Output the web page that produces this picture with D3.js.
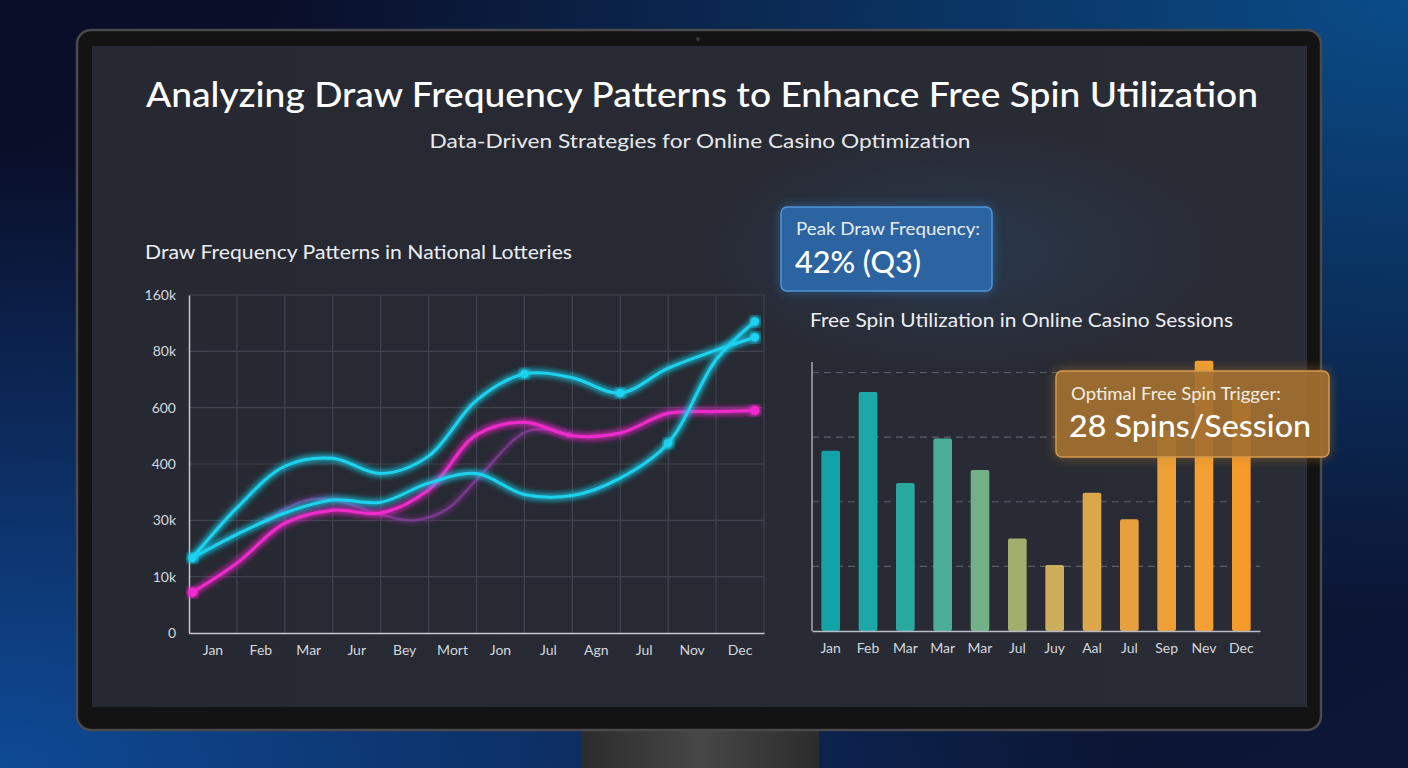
<!DOCTYPE html>
<html>
<head>
<meta charset="utf-8">
<script src="https://cdn.jsdelivr.net/npm/d3@7"></script>
<style>
  html, body { margin: 0; padding: 0; background: #0c1636; }
  svg { display: block; }
  text { font-family: Lato, "Noto Sans", sans-serif; }
</style>
</head>
<body>
<svg id="chart" width="1408" height="768"></svg>
<script>
// ---------------- DATA ----------------
const title = "Analyzing Draw Frequency Patterns to Enhance Free Spin Utilization";
const subtitle = "Data-Driven Strategies for Online Casino Optimization";

const lineTitle = "Draw Frequency Patterns in National Lotteries";
const lineMonths = ["Jan","Feb","Mar","Jur","Bey","Mort","Jon","Jul","Agn","Jul","Nov","Dec"];
const lineYTicks = ["0","10k","30k","400","600","80k","160k"];
// x positions in month units (0 = left edge of Jan column)
const lineX = [0.07, 1, 2, 3, 4, 5, 6, 7, 8, 9, 10, 11, 11.81];
const seriesUpper = [1.33, 2.22, 2.96, 3.10, 2.83, 3.14, 4.13, 4.60, 4.53, 4.26, 4.70, 5.02, 5.25];
const seriesLower = [1.33, 1.75, 2.13, 2.36, 2.32, 2.66, 2.83, 2.46, 2.44, 2.75, 3.37, 4.85, 5.53];
const seriesPink  = [0.72, 1.24, 1.95, 2.18, 2.13, 2.54, 3.52, 3.74, 3.50, 3.55, 3.90, 3.93, 3.95];
const purpleX     = [1.62, 2.38, 3, 4, 4.68, 5.37, 6, 7, 7.5, 7.92];
const seriesPurple= [2.00, 2.34, 2.37, 2.10, 2.00, 2.19, 2.72, 3.56, 3.61, 3.52];
const upperMarkers = [[0.07,1.33],[7.0,4.60],[9.0,4.26],[11.81,5.25]];
const lowerMarkers = [[10.0,3.37],[11.81,5.53]];
const pinkMarkers  = [[0.07,0.72],[11.81,3.95]];
const purpleMarkers= [[1.62,2.00],[7.92,3.52]];

const barTitle = "Free Spin Utilization in Online Casino Sessions";
const barMonths = ["Jan","Feb","Mar","Mar","Mar","Jul","Juy","Aal","Jul","Sep","Nev","Dec"];
const barValues = [27.9, 37.0, 22.9, 29.8, 24.9, 14.3, 10.2, 21.4, 17.3, 31.0, 41.8, 36.0];
const barColors = ["#12a3a6","#1ca8a8","#29a8a0","#4aae98","#72b088","#a0ae6c","#cbad5c","#dca64a","#e6a040","#eea036","#f4a034","#f69a2c"];
const barGridTicks = [10, 20, 30, 40];

const callout1 = ["Peak Draw Frequency:", "42% (Q3)"];
const callout2 = ["Optimal Free Spin Trigger:", "28 Spins/Session"];

// ---------------- DRAW ----------------
const svg = d3.select("#chart");
const defs = svg.append("defs");

const bgG = defs.append("linearGradient").attr("id","bg").attr("x1","0").attr("y1","0").attr("x2","1").attr("y2","1");
bgG.append("stop").attr("offset","0").attr("stop-color","#0a0e28");
bgG.append("stop").attr("offset","1").attr("stop-color","#0c1636");
const r1 = defs.append("radialGradient").attr("id","glowBL").attr("cx","0").attr("cy","1").attr("r","0.8");
r1.append("stop").attr("offset","0").attr("stop-color","#0e4a96").attr("stop-opacity",1);
r1.append("stop").attr("offset","1").attr("stop-color","#0e4a96").attr("stop-opacity",0);
const r2 = defs.append("radialGradient").attr("id","glowTR").attr("cx","1").attr("cy","0").attr("r","0.8");
r2.append("stop").attr("offset","0").attr("stop-color","#0a4c88").attr("stop-opacity",1);
r2.append("stop").attr("offset","1").attr("stop-color","#0a4c88").attr("stop-opacity",0);

const scrG = defs.append("linearGradient").attr("id","scr").attr("x1","0").attr("y1","0").attr("x2","1").attr("y2","0");
scrG.append("stop").attr("offset","0").attr("stop-color","#262931");
scrG.append("stop").attr("offset","1").attr("stop-color","#292c35");
const standG = defs.append("linearGradient").attr("id","stand").attr("x1","0").attr("y1","0").attr("x2","1").attr("y2","0");
standG.append("stop").attr("offset","0").attr("stop-color","#2c2c2c");
standG.append("stop").attr("offset","0.5").attr("stop-color","#474747");
standG.append("stop").attr("offset","1").attr("stop-color","#2c2c2c");
const spot = defs.append("radialGradient").attr("id","spot").attr("cx","0.5").attr("cy","0.5").attr("r","0.5");
spot.append("stop").attr("offset","0").attr("stop-color","#2f4f78").attr("stop-opacity",0.35);
spot.append("stop").attr("offset","1").attr("stop-color","#2f4f78").attr("stop-opacity",0);

function glowFilter(id, sd) {
  const f = defs.append("filter").attr("id", id).attr("x","-20%").attr("y","-20%").attr("width","140%").attr("height","140%");
  f.append("feGaussianBlur").attr("in","SourceGraphic").attr("stdDeviation", sd).attr("result","b");
  const m = f.append("feMerge");
  m.append("feMergeNode").attr("in","b");
  m.append("feMergeNode").attr("in","b");
  m.append("feMergeNode").attr("in","SourceGraphic");
}
glowFilter("glow", 3);
glowFilter("glowSoft", 6);

// background
svg.append("rect").attr("width",1408).attr("height",768).attr("fill","url(#bg)");
svg.append("rect").attr("width",1408).attr("height",768).attr("fill","url(#glowBL)");
svg.append("rect").attr("width",1408).attr("height",768).attr("fill","url(#glowTR)");

// monitor
svg.append("rect").attr("x",582).attr("y",725).attr("width",237).attr("height",50).attr("fill","url(#stand)");
svg.append("rect").attr("x",77).attr("y",30).attr("width",1244).attr("height",700).attr("rx",14)
  .attr("fill","#131313").attr("stroke","#4a4a4e").attr("stroke-width",2.5);
svg.append("rect").attr("x",92).attr("y",46).attr("width",1215).attr("height",661).attr("fill","url(#scr)");
svg.append("ellipse").attr("cx",960).attr("cy",250).attr("rx",260).attr("ry",120).attr("fill","url(#spot)");
svg.append("circle").attr("cx",698).attr("cy",39).attr("r",2).attr("fill","#3a3a3e");

// titles
svg.append("text").attr("x",702).attr("y",107).attr("text-anchor","middle")
  .attr("font-size",35).attr("font-weight",500).attr("fill","#ffffff")
  .attr("textLength",1112).attr("lengthAdjust","spacingAndGlyphs").text(title);
svg.append("text").attr("x",700).attr("y",148).attr("text-anchor","middle")
  .attr("font-size",20).attr("fill","#e6e8ec")
  .attr("textLength",541).attr("lengthAdjust","spacingAndGlyphs").text(subtitle);

// ---------------- LINE CHART ----------------
const L = {left:189, right:764, top:295, bottom:633};
const lx = d3.scaleLinear().domain([0,12]).range([L.left, L.right]);
const lband = d3.scaleBand().domain(d3.range(12)).range([L.left, L.right]);
const ly = d3.scaleLinear().domain([0,6]).range([L.bottom, L.top]);

svg.append("text").attr("x",145).attr("y",259).attr("font-size",19.5).attr("fill","#eceef2")
  .attr("textLength",427).attr("lengthAdjust","spacingAndGlyphs").text(lineTitle);

const gl = svg.append("g");
gl.append("g").selectAll("line").data(d3.range(1,7)).join("line")
  .attr("x1",L.left).attr("x2",L.right).attr("y1",d=>ly(d)).attr("y2",d=>ly(d))
  .attr("stroke","#40444e").attr("stroke-width",1.2);
gl.append("g").selectAll("line").data(d3.range(1,13)).join("line")
  .attr("x1",d=>lx(d)).attr("x2",d=>lx(d)).attr("y1",L.top).attr("y2",L.bottom)
  .attr("stroke","#40444e").attr("stroke-width",1.2);

const yAxisL = gl.append("g").attr("transform",`translate(${L.left},0)`)
  .call(d3.axisLeft(ly).tickValues(d3.range(0,7)).tickFormat(i=>lineYTicks[i]).tickSize(0).tickPadding(13));
yAxisL.select(".domain").attr("stroke","#c4c8d0").attr("stroke-width",1.5);
yAxisL.selectAll("text").attr("fill","#d4d7dd").attr("font-size",14).attr("font-family","Lato, sans-serif");
const xAxisL = gl.append("g").attr("transform",`translate(0,${L.bottom})`)
  .call(d3.axisBottom(lband).tickFormat(i=>lineMonths[i]).tickSize(0).tickPadding(12));
xAxisL.select(".domain").attr("stroke","#c4c8d0").attr("stroke-width",1.5);
xAxisL.selectAll("text").attr("fill","#d4d7dd").attr("font-size",14).attr("font-family","Lato, sans-serif");

const lineGen = d3.line().x(d=>lx(d[0])).y(d=>ly(d[1])).curve(d3.curveCatmullRom.alpha(0.5));
const zipXY = (xs, ys) => xs.map((x,i)=>[x, ys[i]]);

const lines = [
  {pts: zipXY(purpleX, seriesPurple), color:"#9a3fb0", width:2.4, op:0.6, markers: purpleMarkers, mr:2.6},
  {pts: zipXY(lineX, seriesPink), color:"#f02ccc", width:3, op:1, markers: pinkMarkers, mr:4.5},
  {pts: zipXY(lineX, seriesLower), color:"#1fd2ee", width:3, op:1, markers: lowerMarkers, mr:4.2},
  {pts: zipXY(lineX, seriesUpper), color:"#1fd2ee", width:3, op:1, markers: upperMarkers, mr:4.2},
];
lines.forEach(s => {
  svg.append("path").datum(s.pts).attr("d", lineGen).attr("fill","none")
    .attr("stroke", s.color).attr("stroke-width", s.width).attr("stroke-opacity", s.op)
    .attr("stroke-linecap","round").attr("filter","url(#glow)");
  svg.append("g").selectAll("circle").data(s.markers).join("circle")
    .attr("cx", d=>lx(d[0])).attr("cy", d=>ly(d[1])).attr("r", s.mr)
    .attr("fill", s.color).attr("fill-opacity", s.op).attr("filter","url(#glow)");
});

// ---------------- BAR CHART ----------------
const B = {left:812, right:1260, top:362, bottom:631};
const bx = d3.scaleBand().domain(d3.range(12)).range([B.left, B.right]).paddingInner(0.5).paddingOuter(0.25);
const by = d3.scaleLinear().domain([0,40]).range([B.bottom, 372.5]);

svg.append("text").attr("x",810).attr("y",327).attr("font-size",19.5).attr("fill","#eceef2")
  .attr("textLength",423).attr("lengthAdjust","spacingAndGlyphs").text(barTitle);

const gb = svg.append("g");
gb.append("g").selectAll("line").data(barGridTicks).join("line")
  .attr("x1",B.left).attr("x2",B.right).attr("y1",d=>by(d)).attr("y2",d=>by(d))
  .attr("stroke","#5c606a").attr("stroke-width",1.2).attr("stroke-dasharray","7,5");

gb.append("g").selectAll("rect").data(barValues).join("rect")
  .attr("x",(d,i)=>bx(i)).attr("width",bx.bandwidth())
  .attr("y",d=>by(d)).attr("height",d=>B.bottom-by(d))
  .attr("rx",2).attr("fill",(d,i)=>barColors[i]);

gb.append("line").attr("x1",B.left).attr("x2",B.left).attr("y1",B.top).attr("y2",B.bottom)
  .attr("stroke","#a4a8b0").attr("stroke-width",1.5);
const xAxisB = gb.append("g").attr("transform",`translate(0,${B.bottom})`)
  .call(d3.axisBottom(bx).tickFormat(i=>barMonths[i]).tickSize(0).tickPadding(12));
xAxisB.select(".domain").attr("stroke","#b8bcc4").attr("stroke-width",1.5);
xAxisB.selectAll("text").attr("fill","#d4d7dd").attr("font-size",14).attr("font-family","Lato, sans-serif");

// ---------------- CALLOUTS ----------------
svg.append("rect").attr("x",781).attr("y",207).attr("width",211).attr("height",84).attr("rx",6)
  .attr("fill","#3a80c8").attr("opacity",0.35).attr("filter","url(#glowSoft)");
svg.append("rect").attr("x",781).attr("y",207).attr("width",211).attr("height",84).attr("rx",6)
  .attr("fill","#2b64a0").attr("stroke","#4f95d6").attr("stroke-width",1.5);
svg.append("text").attr("x",796).attr("y",235).attr("font-size",17).attr("fill","#e8eef6")
  .attr("textLength",184).attr("lengthAdjust","spacingAndGlyphs").text(callout1[0]);
svg.append("text").attr("x",795).attr("y",273).attr("font-size",31).attr("font-weight",500)
  .attr("font-family","Inter, Lato, sans-serif").attr("fill","#ffffff")
  .attr("textLength",126).attr("lengthAdjust","spacingAndGlyphs").text(callout1[1]);

svg.append("rect").attr("x",1056).attr("y",371).attr("width",273).attr("height",86).attr("rx",6)
  .attr("fill","#c08030").attr("opacity",0.35).attr("filter","url(#glowSoft)");
svg.append("rect").attr("x",1056).attr("y",371).attr("width",273).attr("height",86).attr("rx",6)
  .attr("fill","#a27030").attr("fill-opacity",0.88).attr("stroke","#d39a4c").attr("stroke-width",1.5);
svg.append("text").attr("x",1071).attr("y",400).attr("font-size",17).attr("fill","#f4ede2")
  .attr("textLength",210).attr("lengthAdjust","spacingAndGlyphs").text(callout2[0]);
svg.append("text").attr("x",1069).attr("y",437).attr("font-size",31).attr("font-weight",500)
  .attr("font-family","Inter, Lato, sans-serif").attr("fill","#ffffff")
  .attr("textLength",242).attr("lengthAdjust","spacingAndGlyphs").text(callout2[1]);
</script>
</body>
</html>
